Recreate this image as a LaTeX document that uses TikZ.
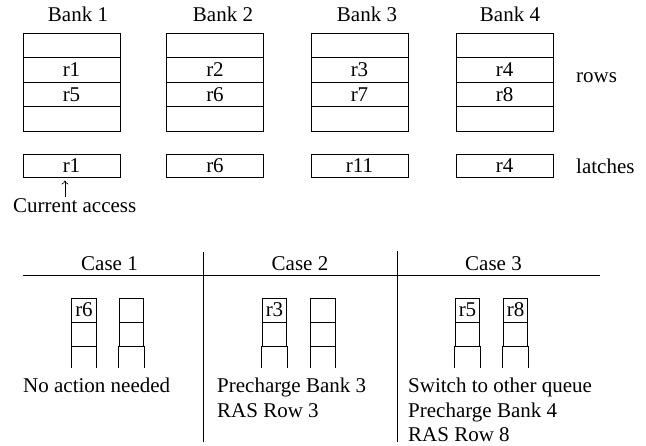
\documentclass[tikz,border=0pt]{standalone}
\usepackage{fontspec}
\setmainfont{Liberation Serif}
\usetikzlibrary{arrows.meta}
\begin{document}
\begin{tikzpicture}[x=1pt,y=-1pt,
    every node/.style={font=\rmfamily\fontsize{21}{24.5}\selectfont},
    cell/.style={draw, line width=0.8pt, minimum width=97pt, minimum height=24.5pt, inner sep=0pt},
    latch/.style={cell, minimum height=23pt},
    slot/.style={draw, line width=0.8pt, minimum width=24.5pt, minimum height=24pt, inner sep=0pt},
    lbl/.style={anchor=base, inner sep=0pt}]
\useasboundingbox (0,0) rectangle (646,445);

% Banks with their rows and latches
\foreach \i/\x/\lx/\ra/\rb/\rl in {1/71.5/78/r1/r5/r1, 2/215/223/r2/r6/r6, 3/359.5/367/r3/r7/r11, 4/504.5/510/r4/r8/r4} {
    \node[lbl] (bank\i) at (\lx,21.7) {Bank \i};
    \node[cell] (row\i a) at (\x,45.5) {};
    \node[cell] (row\i b) at (\x,70) {\ra};
    \node[cell] (row\i c) at (\x,94.5) {\rb};
    \node[cell] (row\i d) at (\x,119) {};
    \node[latch] (latch\i) at (\x,165.5) {\rl};
}
\node[lbl, anchor=base west] (rows) at (576,82) {rows};
\node[lbl, anchor=base west] (latches) at (576,173) {latches};

% Current access pointer
\node[lbl, anchor=base west] (cur) at (13,212) {Current access};
\coordinate (ptr) at (65,197);
\draw[-{To[length=4pt,width=7pt]}, line width=0.6pt] (ptr) -- ([yshift=-3pt]ptr |- latch1.south);

% Cases table
\draw[line width=0.8pt] (23,275) -- (600,275);
\draw[line width=0.8pt] (203,252) -- (203,442);
\draw[line width=0.8pt] (397,251) -- (397,442);
\node[lbl] (case1) at (109.5,270) {Case 1};
\node[lbl] (case2) at (300,270) {Case 2};
\node[lbl] (case3) at (493.5,270) {Case 3};

% Queues
\foreach \n/\x/\t in {qa/84/r6, qb/131.5/, qc/274.5/r3, qd/323/, qe/467.5/r5, qf/515.5/r8} {
    \node[slot] (\n1) at (\x,310) {\t};
    \node[slot] (\n2) at (\x,334) {};
    \draw[line width=0.8pt] (\n2.south west) -- ++(0,22) (\n2.south east) -- ++(0,22);
}

% Actions
\node[anchor=north west, align=left, inner sep=0pt] (act1) at (23,378) {No action needed};
\node[anchor=north west, align=left, inner sep=0pt] (act2) at (217,378) {Precharge Bank 3\\RAS Row 3};
\node[anchor=north west, align=left, inner sep=0pt] (act3) at (408,378) {Switch to other queue\\Precharge Bank 4\\RAS Row 8};
\end{tikzpicture}
\end{document}
